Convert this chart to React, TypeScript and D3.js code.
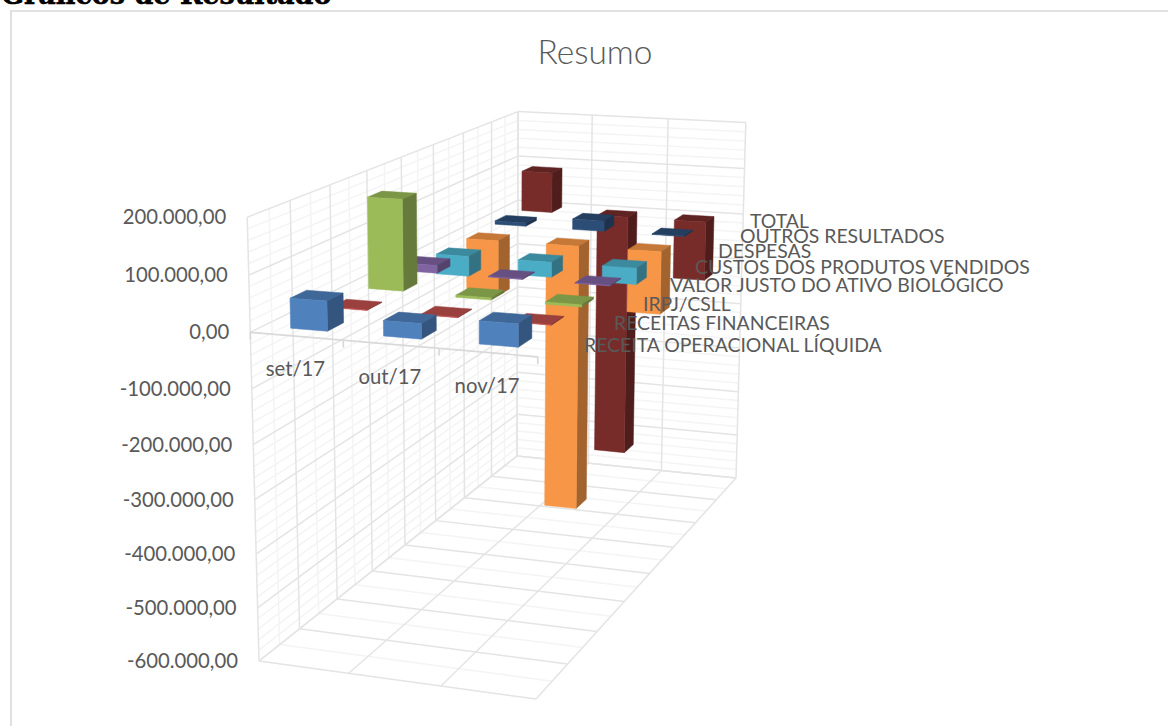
import React from "react";
import * as d3 from "d3";

const categories = ["set/17", "out/17", "nov/17"];
const seriesNames = [
  "RECEITA OPERACIONAL LÍQUIDA",
  "RECEITAS FINANCEIRAS",
  "IRPJ/CSLL",
  "VALOR JUSTO DO ATIVO BIOLÓGICO",
  "CUSTOS DOS PRODUTOS VENDIDOS",
  "DESPESAS",
  "OUTROS RESULTADOS",
  "TOTAL",
];
const receita = [53000, 27000, 40000];
const financeiras = [1000, 1000, 1000];
const irpj = [172000, -4000, -4000];
const valorJusto = [15000, 1000, 1000];
const custos = [-40000, -30000, -32000];
const despesas = [-115000, -557000, -128000];
const outros = [7000, 22000, 1000];
const total = [87000, -530000, -127000];
const seriesValues = [receita, financeiras, irpj, valorJusto, custos, despesas, outros, total];
const seriesColors = ["#4F81BD", "#C0504D", "#9BBB59", "#8064A2", "#4BACC6", "#F79646", "#2C4D75", "#772C2A"];
const valueTicks = [200000, 100000, 0, -100000, -200000, -300000, -400000, -500000, -600000];
const seriesLabelX = [584, 614, 643, 670, 695, 718, 740, 750];
const seriesLabelY = [352, 330, 311, 292, 274, 258, 243, 228];

// Image positions of the plot cube's corners
const A = [259, 661], B = [536, 699], C = [736, 478], D = [517, 456];
const At = [247, 216], Dt = [518, 112], Ct = [746, 123];

function makeProjector() {
  const [x0, y0] = A, [x1, y1] = B, [x2, y2] = C, [x3, y3] = D;
  const dx1 = x1 - x2, dx2 = x3 - x2, sx = x0 - x1 + x2 - x3;
  const dy1 = y1 - y2, dy2 = y3 - y2, sy = y0 - y1 + y2 - y3;
  const det = dx1 * dy2 - dx2 * dy1;
  const g = (sx * dy2 - dx2 * sy) / det;
  const h = (dx1 * sy - sx * dy1) / det;
  const a = x1 - x0 + g * x1, b = x3 - x0 + h * x3, c = x0;
  const d = y1 - y0 + g * y1, e = y3 - y0 + h * y3, f = y0;
  const rows: number[][] = [];
  const rhs: number[] = [];
  ([[0, 0, At], [0, 1, Dt], [1, 1, Ct]] as [number, number, number[]][]).forEach(([u, w, [X, Y]]) => {
    const den = g * u + h * w + 1;
    rows.push([1, 0, -X]);
    rhs.push(X * den - (a * u + b * w + c));
    rows.push([0, 1, -Y]);
    rhs.push(Y * den - (d * u + e * w + f));
  });
  // normal equations
  const M = [0, 1, 2].map((i) => [0, 1, 2].map((j) => d3.sum(rows, (r) => r[i] * r[j])));
  const V = [0, 1, 2].map((i) => d3.sum(rows, (r, k) => r[i] * rhs[k]));
  for (let i = 0; i < 3; i++) {
    for (let k = i + 1; k < 3; k++) {
      const m = M[k][i] / M[i][i];
      for (let j = i; j < 3; j++) M[k][j] -= m * M[i][j];
      V[k] -= m * V[i];
    }
  }
  const S = [0, 0, 0];
  for (let i = 2; i >= 0; i--) {
    let t = V[i];
    for (let j = i + 1; j < 3; j++) t -= M[i][j] * S[j];
    S[i] = t / M[i][i];
  }
  const [p, q, r] = S;
  return (u: number, w: number, v: number): [number, number] => {
    const den = g * u + h * w + r * v + 1;
    return [(a * u + b * w + p * v + c) / den, (d * u + e * w + q * v + f) / den];
  };
}

const project = makeProjector();
const yScale = d3.scaleLinear().domain([-600000, 200000]).range([0, 1]);
const xBand = d3.scaleBand<string>().domain(categories).range([0, 1]).paddingInner(0.6).paddingOuter(0.3);
const zBand = d3.scaleBand<string>().domain(seriesNames).range([0, 1]).paddingInner(0.6).paddingOuter(0.3);
const line = d3.line();
const fmt = d3
  .formatLocale({ decimal: ",", thousands: ".", grouping: [3], currency: ["", ""], minus: "-" })
  .format(",.2f");

const minorValues = d3.range(-600000, 200001, 20000).filter((v) => v % 100000 !== 0);
const seriesEdges = d3.range(0, 9).map((i) => i / 8);
const seriesMids = d3.range(0, 8).map((i) => (i + 0.5) / 8);
const catEdges = d3.range(0, 4).map((i) => i / 3);

const MAJOR = "#e4e4e4";
const MINOR = "#f4f4f4";

type Seg = { pts: [number, number][]; color: string; w: number };
function gridSegments(): Seg[] {
  const out: Seg[] = [];
  const add = (a: [number, number], b: [number, number], color: string, w: number) =>
    out.push({ pts: [a, b], color, w });
  // minor first
  minorValues.forEach((v) => {
    const t = yScale(v);
    add(project(0, 0, t), project(0, 1, t), MINOR, 1.5);
    add(project(0, 1, t), project(1, 1, t), MINOR, 1.5);
  });
  seriesMids.forEach((w) => {
    add(project(0, w, 0), project(0, w, 1), MINOR, 1.5);
    add(project(0, w, 0), project(1, w, 0), MINOR, 1.5);
  });
  valueTicks.forEach((v) => {
    const t = yScale(v);
    add(project(0, 0, t), project(0, 1, t), MAJOR, 1.5);
    add(project(0, 1, t), project(1, 1, t), MAJOR, 1.5);
  });
  seriesEdges.forEach((w) => {
    add(project(0, w, 0), project(0, w, 1), MAJOR, 1.5);
    add(project(0, w, 0), project(1, w, 0), MAJOR, 1.5);
  });
  catEdges.forEach((u) => {
    add(project(u, 1, 0), project(u, 1, 1), MAJOR, 1.5);
    add(project(u, 0, 0), project(u, 1, 0), MAJOR, 1.5);
  });
  // zero axis with tick marks
  const z = yScale(0);
  add(project(0, 0, z), project(1, 0, z), "#d9d9d9", 1.7);
  catEdges.forEach((u) => add(project(u, 0, z), project(u, 0, z - 0.016), "#d9d9d9", 1.7));
  return out;
}

function shade(color: string, k: number) {
  const c = d3.rgb(color);
  return d3.rgb(c.r * k, c.g * k, c.b * k).formatHex();
}

function Bars() {
  const faces: React.ReactElement[] = [];
  const z0 = yScale(0);
  d3.range(seriesNames.length - 1, -1, -1).forEach((si) => {
    const name = seriesNames[si];
    const w0 = zBand(name)!;
    const w1 = w0 + zBand.bandwidth();
    categories.forEach((cat, ci) => {
      const u0 = xBand(cat)!;
      const u1 = u0 + xBand.bandwidth();
      const t = yScale(seriesValues[si][ci]);
      const lo = Math.min(z0, t);
      const hi = Math.max(z0, t);
      const color = seriesColors[si];
      const poly = (pts: [number, number][], fill: string, key: string) => (
        <path key={`${si}-${ci}-${key}`} d={line(pts)! + "Z"} fill={fill} stroke={fill} strokeWidth={0.5} />
      );
      faces.push(
        poly([project(u0, w0, hi), project(u1, w0, hi), project(u1, w1, hi), project(u0, w1, hi)], shade(color, 0.8), "top"),
        poly([project(u1, w0, lo), project(u1, w1, lo), project(u1, w1, hi), project(u1, w0, hi)], shade(color, 0.66), "side"),
        poly([project(u0, w0, lo), project(u1, w0, lo), project(u1, w0, hi), project(u0, w0, hi)], color, "front")
      );
    });
  });
  return <g>{faces}</g>;
}

const FONT = "Lato, 'Open Sans', sans-serif";
const TEXT = "#595959";

export default function App() {
  const z = yScale(0);
  return (
    <svg
      width={1168}
      height={726}
      style={{ position: "absolute", left: 0, top: 0, display: "block", background: "#fff" }}
    >
      <text
        x={1}
        y={4}
        fontFamily="'DejaVu Serif', serif"
        fontWeight={700}
        fontSize={27}
        fill="#000"
        stroke="#000"
        strokeWidth={0.6}
      >
        Gráficos de Resultado
      </text>
      <path d="M1168,11H11V726" fill="none" stroke="#d9d9d9" strokeWidth={1.6} />
      <text x={595} y={64} textAnchor="middle" fontFamily={FONT} fontWeight={300} fontSize={33.5} fill={TEXT}>
        Resumo
      </text>
      <g>
        {gridSegments().map((s, i) => (
          <path key={i} d={line(s.pts)!} stroke={s.color} strokeWidth={s.w} fill="none" />
        ))}
      </g>
      <Bars />
      <g fontFamily={FONT} fontSize={20.3} fill={TEXT}>
        {valueTicks.map((v) => {
          const [x, y] = project(0, 0, yScale(v));
          return (
            <text key={v} x={x - 21} y={y + 7} textAnchor="end">
              {fmt(v)}
            </text>
          );
        })}
        {categories.map((c) => {
          const [x, y] = project(xBand(c)! + xBand.bandwidth() / 2, 0, z);
          return (
            <text key={c} x={x - 1} y={y + 40} textAnchor="middle">
              {c}
            </text>
          );
        })}
      </g>
      <g fontFamily={FONT} fontSize={19.4} fill={TEXT}>
        {seriesNames.map((n, i) => (
          <text key={n} x={seriesLabelX[i]} y={seriesLabelY[i]}>
            {n}
          </text>
        ))}
      </g>
    </svg>
  );
}
